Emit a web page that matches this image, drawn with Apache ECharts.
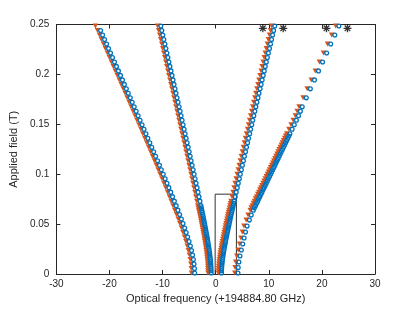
<!DOCTYPE html>
<html>
<head>
<meta charset="utf-8">
<script src="https://cdn.jsdelivr.net/npm/echarts@6/dist/echarts.min.js"></script>
<style>
html,body{margin:0;padding:0;background:#fff;}
#chart{width:415px;height:312px;}
</style>
</head>
<body>
<div id="chart"></div>
<script>
// ---------- data ----------
// field values (T) shared by branches A, B, C
const fieldMain = [0.0010,0.0055,0.0100,0.0145,0.0190,0.0235,0.0280,0.0325,0.0370,0.0415,0.0460,0.0505,0.0550,0.0595,0.0640,0.0685,0.0730,0.0775,0.0820,0.0865,0.0910,0.0955,0.1000,0.1045,0.1090,0.1135,0.1180,0.1225,0.1270,0.1315,0.1360,0.1405,0.1450,0.1495,0.1540,0.1585,0.1630,0.1675,0.1720,0.1765,0.1810,0.1855,0.1900,0.1945,0.1990,0.2035,0.2080,0.2125,0.2170,0.2215,0.2260,0.2305,0.2350,0.2395,0.2440,0.2485];

// branch A (outer left)
const aBlue = [-3.95,-3.99,-4.07,-4.19,-4.35,-4.54,-4.76,-5.01,-5.27,-5.55,-5.84,-6.15,-6.46,-6.78,-7.11,-7.44,-7.78,-8.12,-8.46,-8.81,-9.16,-9.51,-9.87,-10.23,-10.58,-10.94,-11.31,-11.67,-12.03,-12.40,-12.76,-13.13,-13.49,-13.86,-14.23,-14.60,-14.97,-15.34,-15.71,-16.08,-16.45,-16.82,-17.19,-17.56,-17.93,-18.31,-18.68,-19.05,-19.42,-19.80,-20.17,-20.54,-20.92,-21.29,-21.66];
const aOrange = [-4.55,-4.59,-4.67,-4.79,-4.95,-5.14,-5.36,-5.61,-5.87,-6.15,-6.44,-6.75,-7.06,-7.38,-7.71,-8.04,-8.38,-8.72,-9.06,-9.41,-9.76,-10.11,-10.47,-10.83,-11.18,-11.54,-11.91,-12.27,-12.63,-13.00,-13.36,-13.73,-14.09,-14.46,-14.83,-15.20,-15.57,-15.94,-16.31,-16.68,-17.05,-17.42,-17.79,-18.16,-18.53,-18.91,-19.28,-19.65,-20.02,-20.40,-20.77,-21.14,-21.52,-21.89,-22.26,-22.64];

// branch B (inner left)
const bBlue = [-0.85,-0.87,-0.92,-0.99,-1.09,-1.20,-1.33,-1.47,-1.61,-1.77,-1.93,-2.09,-2.26,-2.43,-2.61,-2.78,-2.96,-3.14,-3.32,-3.50,-3.69,-3.87,-4.06,-4.24,-4.43,-4.62,-4.80,-4.99,-5.18,-5.37,-5.56,-5.75,-5.94,-6.13,-6.32,-6.51,-6.70,-6.89,-7.08,-7.27,-7.46,-7.65,-7.84,-8.03,-8.22,-8.41,-8.61,-8.80,-8.99,-9.18,-9.37,-9.56,-9.76,-9.95,-10.14,-10.33];
const bOrange = [-1.45,-1.47,-1.52,-1.59,-1.69,-1.80,-1.93,-2.07,-2.21,-2.37,-2.53,-2.69,-2.86,-3.03,-3.21,-3.38,-3.56,-3.74,-3.92,-4.10,-4.29,-4.47,-4.66,-4.84,-5.03,-5.22,-5.40,-5.59,-5.78,-5.97,-6.16,-6.35,-6.54,-6.73,-6.92,-7.11,-7.30,-7.49,-7.68,-7.87,-8.06,-8.25,-8.44,-8.63,-8.82,-9.01,-9.21,-9.40,-9.59,-9.78,-9.97,-10.16,-10.36,-10.55,-10.74,-10.93];

// branch C (inner right)
const cBlue = [1.10,1.13,1.20,1.29,1.41,1.55,1.70,1.86,2.03,2.20,2.38,2.56,2.74,2.93,3.11,3.30,3.49,3.68,3.87,4.07,4.26,4.45,4.64,4.84,5.03,5.23,5.42,5.62,5.81,6.01,6.20,6.40,6.59,6.79,6.98,7.18,7.38,7.57,7.77,7.97,8.16,8.36,8.56,8.75,8.95,9.15,9.34,9.54,9.74,9.93,10.13,10.33,10.52,10.72,10.92,11.12];
const cOrange = [0.50,0.53,0.60,0.69,0.81,0.95,1.10,1.26,1.43,1.60,1.78,1.96,2.14,2.33,2.51,2.70,2.89,3.08,3.27,3.47,3.66,3.85,4.04,4.24,4.43,4.63,4.82,5.02,5.21,5.41,5.60,5.80,5.99,6.19,6.38,6.58,6.78,6.97,7.17,7.37,7.56,7.76,7.96,8.15,8.35,8.55,8.74,8.94,9.14,9.33,9.53,9.73,9.92,10.12,10.32,10.52];

// extra (dense) low-field samples for branches B and C
const fieldDense = [0.00325,0.00775,0.01225,0.01675,0.02125,0.02575,0.03025,0.03475,0.03925,0.04375,0.04825,0.05275,0.05725,0.06175,0.06625,0.07075];
const bDenseBlue = [-0.86,-0.89,-0.95,-1.04,-1.14,-1.26,-1.40,-1.54,-1.69,-1.85,-2.01,-2.17,-2.34,-2.52,-2.69];
const bDenseOrange = [-1.46,-1.49,-1.55,-1.64,-1.74,-1.86,-2.00,-2.14,-2.29,-2.45,-2.61,-2.77,-2.94,-3.12,-3.29];
const cDenseBlue = [1.11,1.16,1.24,1.35,1.48,1.62,1.78,1.94,2.11,2.29,2.47,2.65,2.83,3.02,3.20,3.39];
const cDenseOrange = [0.51,0.56,0.64,0.75,0.88,1.02,1.18,1.34,1.51,1.69,1.87,2.05,2.23,2.42,2.60,2.79];

// branch D (outer right)
const dField = [0.0010,0.0065,0.0120,0.0180,0.0240,0.0300,0.0360,0.0420,0.0480,0.0540,0.0590,
  0.0640,0.0663,0.0685,0.0708,0.0730,0.0753,0.0775,0.0798,0.0820,0.0843,0.0865,0.0888,0.0910,0.0933,0.0955,0.0978,0.1000,0.1023,0.1045,0.1068,0.1090,0.1113,0.1135,0.1158,0.1180,0.1203,0.1225,0.1248,0.1270,0.1293,0.1315,0.1338,0.1360,0.1383,0.1405,
  0.1450,0.1495,0.1540,0.1585,0.1630,0.1675,0.1765,0.1855,0.1945,0.2035,0.2125,0.2215,0.2305,0.2395,0.2485];
const dBlue = [4.20,4.25,4.38,4.58,4.84,5.10,5.36,5.62,5.92,6.35,6.70,
  7.10,7.30,7.50,7.71,7.91,8.11,8.31,8.52,8.72,8.92,9.12,9.33,9.53,9.73,9.93,10.14,10.34,10.54,10.74,10.95,11.15,11.35,11.55,11.76,11.96,12.16,12.36,12.57,12.77,12.97,13.17,13.38,13.58,13.78,13.98,
  14.40,14.80,15.20,15.60,15.95,16.30,17.06,17.83,18.60,19.36,20.13,20.90,21.66,22.43,23.20];
const dOrange = [3.60,3.65,3.78,3.98,4.24,4.50,4.76,5.02,5.32,5.75,6.10,
  6.50,6.70,6.90,7.11,7.31,7.51,7.71,7.92,8.12,8.32,8.52,8.73,8.93,9.13,9.33,9.54,9.74,9.94,10.14,10.35,10.55,10.75,10.95,11.16,11.36,11.56,11.76,11.97,12.17,12.37,12.57,12.78,12.98,13.18,13.38,
  13.80,14.20,14.60,15.00,15.35,15.70,16.46,17.23,18.00,18.76,19.53,20.30,21.06,21.83,22.60];

// asterisk markers at the top
const starX = [8.88, 12.72, 20.86, 24.82];
const starField = [0.2462, 0.2462, 0.2462, 0.2462];

// rectangle outline
const boxX = [-0.1, -0.1, 3.9, 3.9];
const boxField = [0, 0.08, 0.08, 0];

// axes
const xMin = -30, xMax = 30, xStep = 10;
const yMin = 0, yMax = 0.25, yStep = 0.05;
const xTitle = 'Optical frequency (+194884.80 GHz)';
const yTitle = 'Applied field (T)';

// ---------- build ----------
function pairs(xs, ys) { return xs.map((x, i) => [x, ys[i]]); }

const orangeData = [].concat(
  pairs(aOrange, fieldMain), pairs(bOrange, fieldMain), pairs(cOrange, fieldMain),
  pairs(bDenseOrange, fieldDense), pairs(cDenseOrange, fieldDense), pairs(dOrange, dField));
const blueData = [].concat(
  pairs(aBlue, fieldMain), pairs(bBlue, fieldMain), pairs(cBlue, fieldMain),
  pairs(bDenseBlue, fieldDense), pairs(cDenseBlue, fieldDense), pairs(dBlue, dField));

const axisColor = '#262626';
const font = 'Liberation Sans, Arial, Helvetica, sans-serif';

const chart = echarts.init(document.getElementById('chart'), null, {renderer: 'canvas'});
chart.setOption({
  animation: false,
  backgroundColor: '#fff',
  grid: {left: 53, right: 40, top: 24.5, bottom: 38, containLabel: false},
  xAxis: [{
    type: 'value', min: xMin, max: xMax, interval: xStep, position: 'bottom',
    name: xTitle, nameLocation: 'middle', nameGap: 18,
    nameTextStyle: {color: axisColor, fontSize: 11, fontFamily: font},
    axisLine: {onZero: false, lineStyle: {color: axisColor, width: 1}},
    axisTick: {inside: true, length: 4, lineStyle: {color: axisColor}},
    axisLabel: {color: axisColor, fontSize: 10, fontFamily: font, margin: 5},
    splitLine: {show: false}
  }, {
    type: 'value', min: xMin, max: xMax, interval: xStep, position: 'top',
    axisLine: {onZero: false, lineStyle: {color: axisColor, width: 1}},
    axisTick: {inside: true, length: 4, lineStyle: {color: axisColor}},
    axisLabel: {show: false}, splitLine: {show: false}
  }],
  yAxis: [{
    type: 'value', min: yMin, max: yMax, interval: yStep, position: 'left',
    name: yTitle, nameLocation: 'middle', nameGap: 32,
    nameTextStyle: {color: axisColor, fontSize: 11, fontFamily: font},
    axisLine: {onZero: false, lineStyle: {color: axisColor, width: 1}},
    axisTick: {inside: true, length: 4, lineStyle: {color: axisColor}},
    axisLabel: {color: axisColor, fontSize: 10, fontFamily: font, margin: 7,
      formatter: v => String(parseFloat(Number(v).toFixed(3)))},
    splitLine: {show: false}
  }, {
    type: 'value', min: yMin, max: yMax, interval: yStep, position: 'right',
    axisLine: {onZero: false, lineStyle: {color: axisColor, width: 1}},
    axisTick: {inside: true, length: 4, lineStyle: {color: axisColor}},
    axisLabel: {show: false}, splitLine: {show: false}
  }],
  series: [
    {
      type: 'scatter', data: orangeData, xAxisIndex: 0, yAxisIndex: 0,
      symbol: 'triangle', symbolRotate: 180, symbolSize: [5.5, 5],
      itemStyle: {color: '#D95319', opacity: 1}, silent: true
    },
    {
      type: 'scatter', data: blueData, xAxisIndex: 0, yAxisIndex: 0,
      symbol: 'circle', symbolSize: 3.8,
      itemStyle: {color: 'rgba(0,0,0,0)', borderColor: '#0072BD', borderWidth: 1.3, opacity: 1}, silent: true
    },
    {
      type: 'scatter', data: pairs(starX, starField), xAxisIndex: 0, yAxisIndex: 0,
      symbol: 'path://M0,-5L0,5M-5,0L5,0M-3.5,-3.5L3.5,3.5M-3.5,3.5L3.5,-3.5',
      symbolSize: 8,
      itemStyle: {color: 'rgba(0,0,0,0)', borderColor: '#000', borderWidth: 1.3}, silent: true
    },
    {
      type: 'line', data: pairs(boxX, boxField), xAxisIndex: 0, yAxisIndex: 0,
      symbol: 'none', lineStyle: {color: '#333', width: 1}, silent: true, z: 1
    }
  ]
});
</script>
</body>
</html>
